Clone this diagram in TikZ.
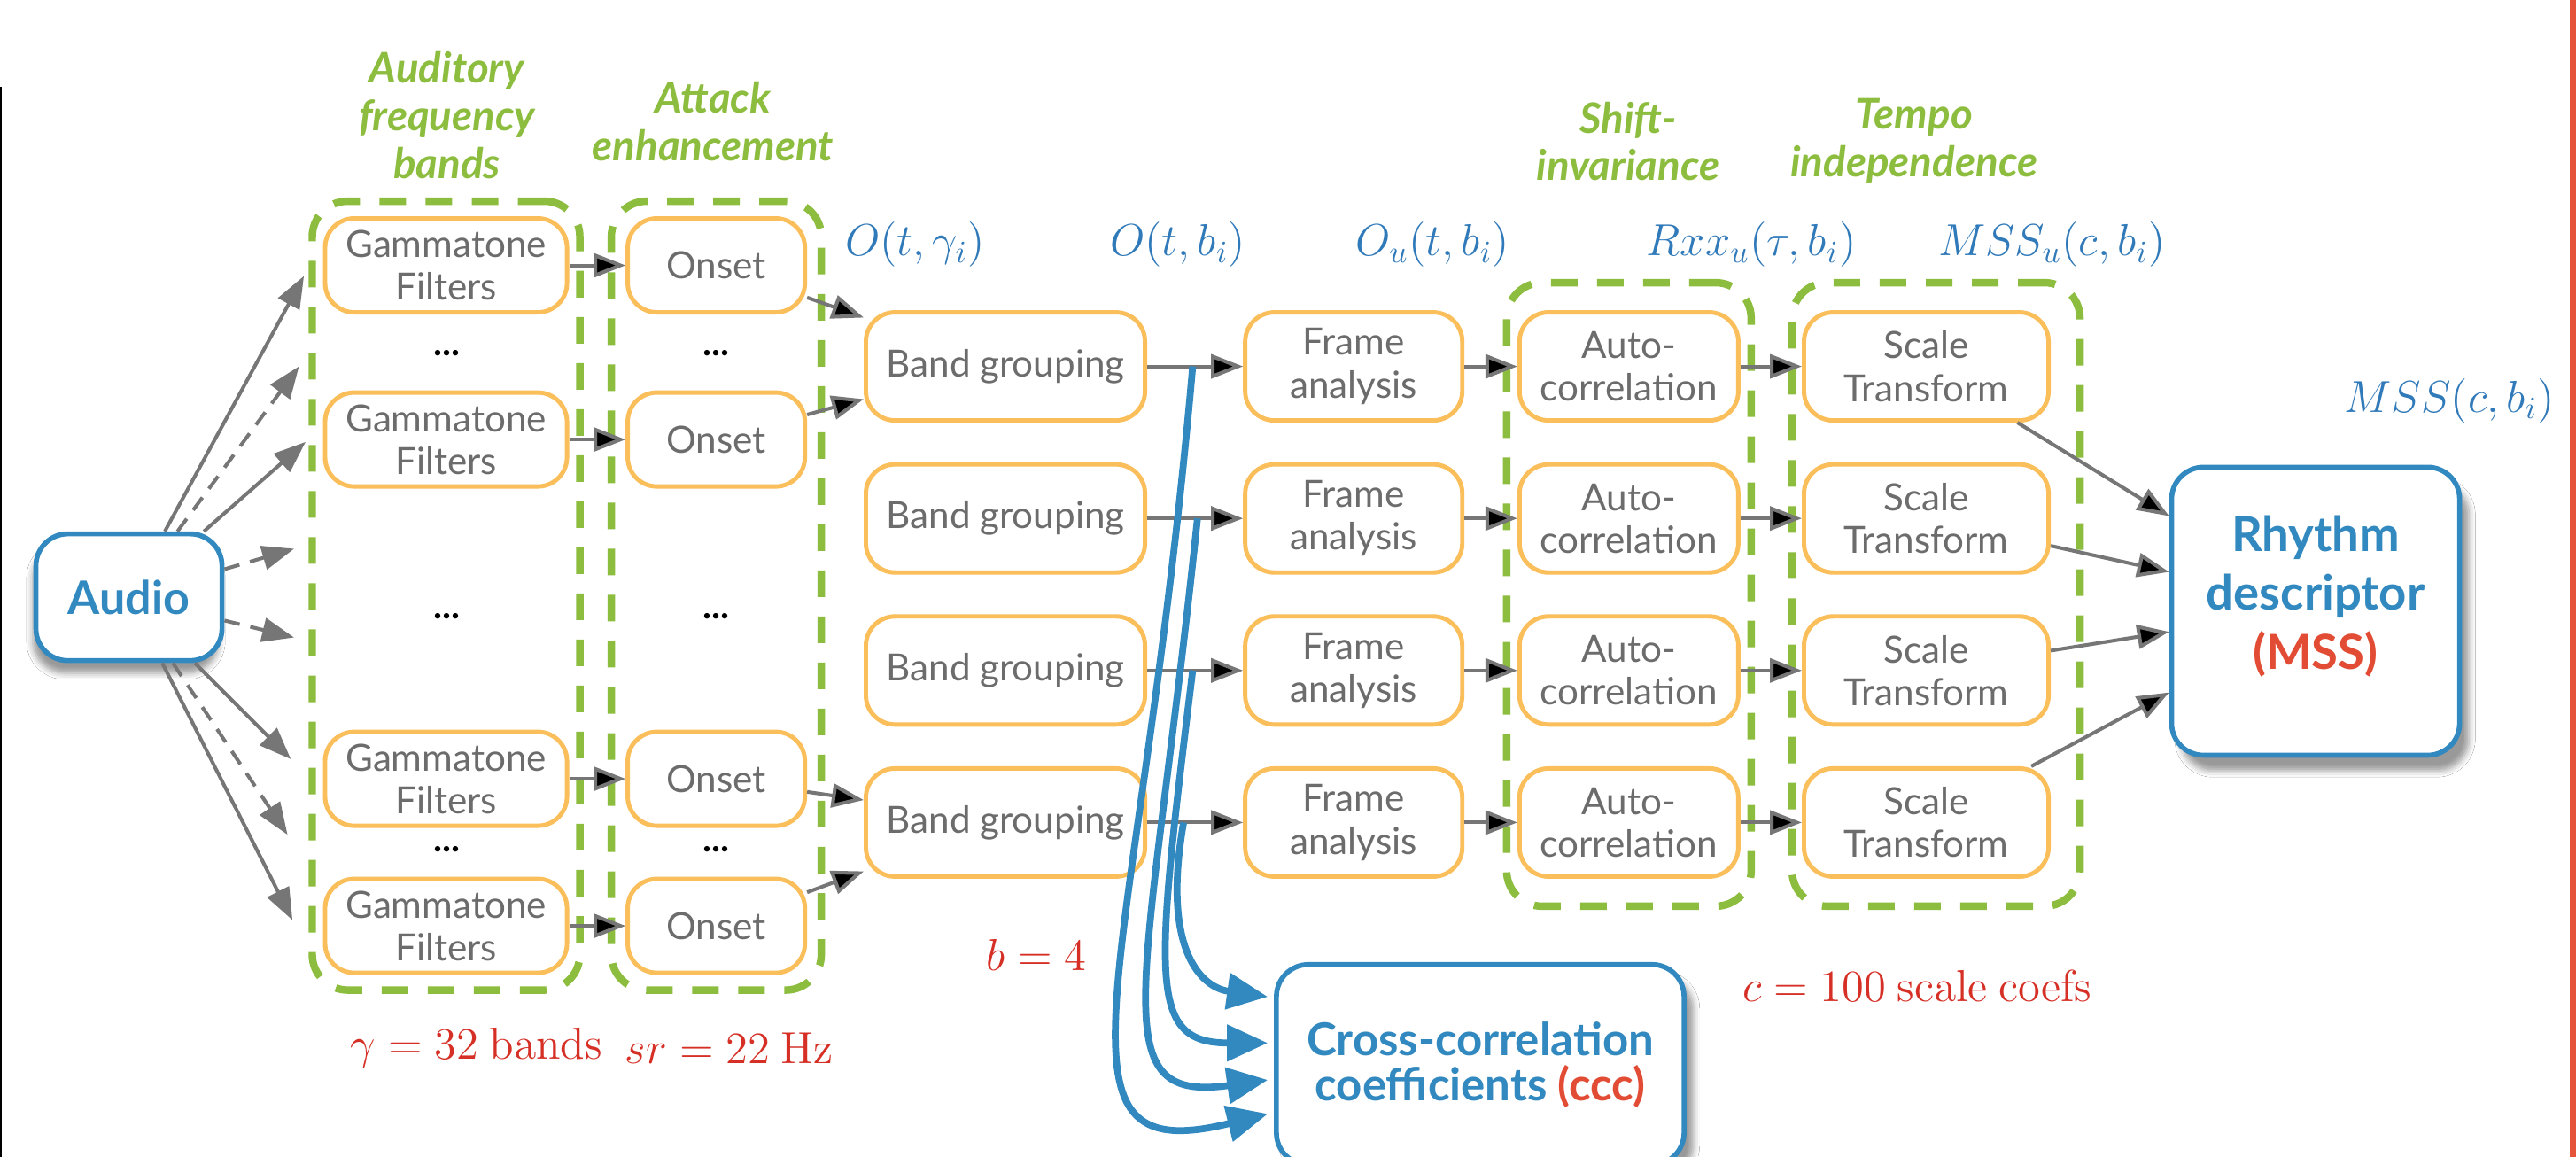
\documentclass[tikz,border=0pt]{standalone}
\usepackage[no-math]{fontspec}
\setmainfont{Lato}
\usetikzlibrary{arrows.meta,fit,calc,shadows.blur}

\definecolor{boxorange}{RGB}{250,190,90}
\definecolor{txtgray}{RGB}{108,108,108}
\definecolor{arrgray}{RGB}{118,118,118}
\definecolor{grpgreen}{RGB}{141,189,63}
\definecolor{descblue}{RGB}{50,137,192}
\definecolor{mathblue}{RGB}{48,122,186}
\definecolor{hlred}{RGB}{226,76,52}
\definecolor{mathred}{RGB}{214,48,38}
\definecolor{edgered}{RGB}{228,83,58}

\tikzset{
  proc/.style={draw=boxorange,line width=1.4pt,rounded corners=0.33cm,fill=white,
    text=txtgray,align=center,inner sep=0pt,font=\fontsize{12}{13.7}\selectfont},
  gtbox/.style={proc,minimum width=2.73cm,minimum height=1.06cm},
  onbox/.style={proc,minimum width=2.0cm,minimum height=1.06cm},
  bgbox/.style={proc,minimum width=3.15cm,minimum height=1.22cm},
  fabox/.style={proc,minimum width=2.45cm,minimum height=1.22cm},
  acbox/.style={proc,minimum width=2.47cm,minimum height=1.22cm},
  stbox/.style={proc,minimum width=2.76cm,minimum height=1.22cm},
  desc/.style={draw=descblue,line width=1.6pt,rounded corners=0.36cm,fill=white,
    text=descblue,align=center,inner sep=0pt},
  desctext/.style={text=descblue,align=center,inner sep=0pt},
  group/.style={draw=grpgreen,line width=2.4pt,dash pattern=on 0.3cm off 0.22cm,
    rounded corners=0.4cm},
  head/.style={text=grpgreen,align=center,font=\fontsize{13.5}{15.3}\selectfont\bfseries\itshape},
  sig/.style={text=mathblue,font=\fontsize{14}{16}\selectfont},
  param/.style={text=mathred,font=\fontsize{14}{16}\selectfont},
  dots/.style={font=\fontsize{12}{12}\selectfont\bfseries},
  flow/.style={-{Triangle[length=0.36cm,width=0.27cm]},draw=arrgray,line width=1.15pt},
  dflow/.style={flow,dash pattern=on 5pt off 3.5pt},
  ccflow/.style={-{Triangle[length=0.46cm,width=0.4cm]},draw=descblue,line width=2.2pt,
    shorten >=2pt},
}

\begin{document}
\begin{tikzpicture}[x=0.018546cm,y=-0.018546cm,node distance=1.7155cm]
\useasboundingbox (0,0) rectangle (1568,704);
\fill[white] (0,0) rectangle (1568,704);
\draw[black,line width=0.6pt] (0.5,53) -- (0.5,704);
\fill[edgered] (1564,0) rectangle (1568,704);

\node[desc,minimum width=2.1cm,minimum height=1.43cm,font=\fontsize{14.8}{16}\selectfont\bfseries,
  blur shadow={shadow xshift=-1pt,shadow yshift=-4pt}](audio) at (78.5,363.5){Audio};

\node[gtbox](gt1) at (271.5,161.5){Gammatone\\Filters};
\node[gtbox](gt2) at (271.5,267.5){Gammatone\\Filters};
\node[gtbox](gt3) at (271.5,474){Gammatone\\Filters};
\node[gtbox](gt4) at (271.5,563.5){Gammatone\\Filters};
\node[onbox](on1) at (436,161.5){Onset};
\node[onbox](on2) at (436,267.5){Onset};
\node[onbox](on3) at (436,474){Onset};
\node[onbox](on4) at (436,563.5){Onset};

\node[dots](gd1) at (272,215){...};
\node[dots](gd2) at (272,375){...};
\node[dots](gd3) at (272,517){...};
\node[dots](od1) at (436,215){...};
\node[dots](od2) at (436,375){...};
\node[dots](od3) at (436,517){...};

\node[bgbox](bg1) at (612,223){Band grouping};
\node[bgbox](bg2)[below of=bg1]{Band grouping};
\node[bgbox](bg3)[below of=bg2]{Band grouping};
\node[bgbox](bg4)[below of=bg3]{Band grouping};
\node[fabox](fa1) at (824,223){Frame\\analysis};
\node[fabox](fa2)[below of=fa1]{Frame\\analysis};
\node[fabox](fa3)[below of=fa2]{Frame\\analysis};
\node[fabox](fa4)[below of=fa3]{Frame\\analysis};
\node[acbox](ac1) at (991.5,223){Auto-\\correlation};
\node[acbox](ac2)[below of=ac1]{Auto-\\correlation};
\node[acbox](ac3)[below of=ac2]{Auto-\\correlation};
\node[acbox](ac4)[below of=ac3]{Auto-\\correlation};
\node[stbox](st1) at (1172.5,223){Scale\\Transform};
\node[stbox](st2)[below of=st1]{Scale\\Transform};
\node[stbox](st3)[below of=st2]{Scale\\Transform};
\node[stbox](st4)[below of=st3]{Scale\\Transform};

\node[desc,minimum width=3.25cm,minimum height=3.25cm,
  blur shadow={shadow xshift=3pt,shadow yshift=-5pt}](mss) at (1409.5,372){};
\node[desctext,font=\fontsize{15.5}{19}\selectfont\bfseries](msstext) at ([yshift=0.17cm]mss.center)
  {Rhythm\\descriptor\\\textcolor{hlred}{(MSS)}};
\node[desc,minimum width=4.6cm,minimum height=2.26cm,font=\fontsize{14.5}{14.5}\selectfont\bfseries,
  blur shadow={shadow xshift=3pt,shadow yshift=-4pt}](ccc) at (901,648){Cross-correlation\\coefficients \textcolor{hlred}{(ccc)}};

\node[group,fit=(gt1)(gt4),inner xsep=0.12cm,inner ysep=0.17cm](gband){};
\node[group,fit=(on1)(on4),inner xsep=0.16cm,inner ysep=0.17cm](gattack){};
\node[group,fit=(ac1)(ac4),inner xsep=0.12cm,inner ysep=0.31cm](gshift){};
\node[group,fit=(st1)(st4),inner xsep=0.22cm,inner ysep=0.31cm,xshift=0.11cm](gtempo){};

\node[head](hband) at (272,70){Auditory\\frequency\\bands};
\node[head](hattack) at (434,74){Attack\\enhancement};
\node[head](hshift) at (991,86){Shift-\\invariance};
\node[head](htempo) at (1165,86){Tempo\\independence};

\node[sig](sg1) at (557,149){$O(t,\gamma_i)$};
\node[sig](sg2) at (717,149){$O(t,b_i)$};
\node[sig](sg3) at (872,149){$O_u(t,b_i)$};
\node[sig](sg4) at (1066,149){$Rxx_u(\tau,b_i)$};
\node[sig](sg5) at (1249,149){$MSS_u(c,b_i)$};
\node[sig](sg6) at (1491,244){$MSS(c,b_i)$};

\node[param](pg) at (290,638){$\gamma=32\ \mathrm{bands}$};
\node[param](psr) at (444,638){$sr=22\ \mathrm{Hz}$};
\node[param](pb) at (631,581){$b=4$};
\node[param](pc) at (1167,600){$c=100\ \mathrm{scale\ coefs}$};

\coordinate (a1) at (185,168);
\coordinate (a2) at (182,223);
\coordinate (a3) at (186,269);
\coordinate (a4) at (179,334);
\coordinate (a5) at (179,388);
\coordinate (a6) at (177,462);
\coordinate (a7) at (175,508);
\coordinate (a8) at (178,560);

\draw[flow] (audio) -- (a1);
\draw[dflow] (audio) -- (a2);
\draw[flow] (audio) -- (a3);
\draw[dflow] (audio) -- (a4);
\draw[dflow] (audio) -- (a5);
\draw[flow] (audio) -- (a6);
\draw[dflow] (audio) -- (a7);
\draw[flow] (audio) -- (a8);

\path[flow] (gt1) edge (on1)
  (gt2) edge (on2)
  (gt3) edge (on3)
  (gt4) edge (on4)
  (on1) edge (bg1.161)
  (on2) edge (bg1.193)
  (on3) edge (bg4.171)
  (on4) edge (bg4.199);

\path[flow] (bg1) edge (fa1)
  (bg2) edge (fa2)
  (bg3) edge (fa3)
  (bg4) edge (fa4)
  (fa1) edge (ac1)
  (fa2) edge (ac2)
  (fa3) edge (ac3)
  (fa4) edge (ac4)
  (ac1) edge (st1)
  (ac2) edge (st2)
  (ac3) edge (st3)
  (ac4) edge (st4)
  (st1) edge (mss.147)
  (st2) edge (mss.165)
  (st3) edge (mss.188)
  (st4) edge (mss.209);

\coordinate (s1) at ($(bg1.east)!.475!(fa1.west)$);
\coordinate (s2) at ($(bg2.east)!.525!(fa2.west)$);
\coordinate (s3) at ($(bg3.east)!.475!(fa3.west)$);
\coordinate (s4) at ($(bg4.east)!.38!(fa4.west)$);

\draw[ccflow] (s4) to[out=-100,in=172,out looseness=1.6,in looseness=1] (ccc.162);
\draw[ccflow] (s3) to[out=-97,in=180,out looseness=2.1,in looseness=0.85] (ccc.174);
\draw[ccflow] (s2) to[out=-96,in=188,out looseness=2.15,in looseness=0.8] (ccc.184);
\draw[ccflow] (s1) to[out=-95,in=194,out looseness=2.1,in looseness=0.85] (ccc.193);

\end{tikzpicture}
\end{document}
